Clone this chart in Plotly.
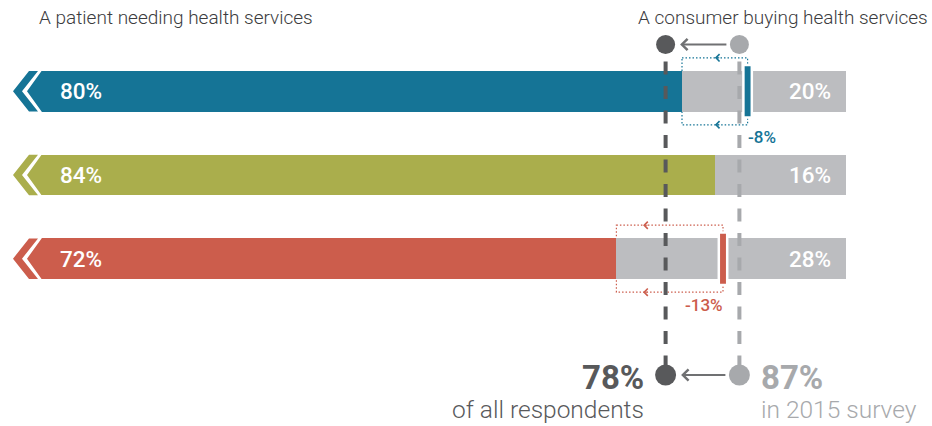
import plotly.graph_objects as go

# ---- data -------------------------------------------------------------
categories = ["Group 1", "Group 2", "Group 3"]
patient_pct = [80, 84, 72]          # share seeing themselves as a patient
consumer_pct = [20, 16, 28]         # share seeing themselves as a consumer
patient_pct_2015 = [88, None, 85]   # earlier survey value (None = no marker)
overall_now = 78
overall_2015 = 87

header_left = "A patient needing health services"
header_right = "A consumer buying health services"
caption_now = "of all respondents"
caption_2015 = "in 2015 survey"

# ---- styles -----------------------------------------------------------
row_colors = ["#157496", "#aaae4c", "#cc5d4c"]
gray = "#bcbdc0"
dark = "#58595b"
light = "#a7a9ac"
arrow_gray = "#707173"
change_side = ["left", None, "right"]     # which side of the marker the change label sits
bracket_arrow_at = [0.5, None, 0.25]      # position of the small arrowhead along the bracket
FONT = "Roboto"

W, H = 932, 426
PX_PER_PCT, ZERO_PX = 8.2, 26
ROW_PX, FIRST_ROW_PX = 83.7, 91.3
BAR_PX = 40.5
h = BAR_PX / 2

x_range = [-ZERO_PX / PX_PER_PCT, (W - ZERO_PX) / PX_PER_PCT]
y_range = [(H - FIRST_ROW_PX) / ROW_PX, -FIRST_ROW_PX / ROW_PX]


def py(px):
    """paper y from a distance in pixels below the top edge"""
    return 1 - px / H


fig = go.Figure()
fig.add_trace(go.Bar(
    y=categories, x=patient_pct, orientation="h",
    marker=dict(color=row_colors, line=dict(width=0)),
    width=BAR_PX / ROW_PX, hoverinfo="skip",
))
fig.add_trace(go.Bar(
    y=categories, x=consumer_pct, orientation="h",
    marker=dict(color=gray, line=dict(width=0)),
    width=BAR_PX / ROW_PX, hoverinfo="skip",
))

shapes = []
annotations = []

for i, (cat, p, c, p15, col) in enumerate(zip(categories, patient_pct, consumer_pct,
                                              patient_pct_2015, row_colors)):
    # chevron-shaped left end: white notch + separate stripe
    shapes.append(dict(
        type="path", xref="x", yref="y", xsizemode="pixel", ysizemode="pixel",
        xanchor=0, yanchor=i,
        path=f"M-3,{-h-2} L17,{-h-2} L1,0 L17,{h+2} L-3,{h+2} Z",
        fillcolor="white", line=dict(width=0), layer="above",
    ))
    shapes.append(dict(
        type="path", xref="x", yref="y", xsizemode="pixel", ysizemode="pixel",
        xanchor=0, yanchor=i,
        path=f"M-13,0 L3,{-h} L12,{-h} L-4,0 L12,{h} L3,{h} Z",
        fillcolor=col, line=dict(width=0), layer="above",
    ))

    # value labels inside the bar
    annotations.append(dict(
        x=0, y=i, xref="x", yref="y", xanchor="left", yanchor="middle", xshift=32,
        text=f"{p}%", showarrow=False,
        font=dict(family=FONT, size=22.5, color="white", weight=500),
    ))
    annotations.append(dict(
        x=p + c, y=i, xref="x", yref="y", xanchor="right", yanchor="middle", xshift=-13,
        text=f"{c}%", showarrow=False,
        font=dict(family=FONT, size=22.5, color="white", weight=500),
    ))

    if p15 is None:
        continue

    # dotted bracket from the earlier value back to the current one
    shapes.append(dict(
        type="rect", xref="x", yref="y", x0=p, x1=p15, y0=i - 0.4, y1=i + 0.4,
        line=dict(color=col, width=1.2, dash="1.5px,2px"), fillcolor="rgba(0,0,0,0)",
        layer="below",
    ))
    head_x = p + bracket_arrow_at[i] * (p15 - p)
    for dy in (-0.4, 0.4):
        annotations.append(dict(
            x=head_x, y=i + dy, xref="x", yref="y", text="", showarrow=True,
            ax=6, ay=0, axref="pixel", ayref="pixel",
            arrowhead=4, arrowsize=1.4, arrowwidth=1, arrowcolor=col,
        ))

    # earlier-survey marker with white outline
    shapes.append(dict(
        type="rect", xref="x", yref="y", xsizemode="pixel", ysizemode="pixel",
        xanchor=p15, yanchor=i, x0=-4.2, x1=4.2, y0=-26.2, y1=26.2,
        fillcolor=col, line=dict(color="white", width=2.5), layer="above",
    ))

    # change label
    side = change_side[i]
    annotations.append(dict(
        x=p15, y=i, xref="x", yref="y",
        xanchor=side, yanchor="middle",
        xshift=-2 if side == "left" else 2, yshift=-46,
        text=f"{p - p15}%", showarrow=False,
        font=dict(family=FONT, size=17, color=col, weight=500),
    ))

# dashed reference lines for the overall shares
for val, colr in ((overall_now, dark), (overall_2015, light)):
    shapes.append(dict(
        type="line", xref="x", yref="paper", x0=val, x1=val, y0=py(61.5), y1=py(372),
        line=dict(color=colr, width=4, dash="13px,11.5px"), layer="above",
    ))

# dots + arrows at top and bottom
for ypx, r in ((44.5, 9.5), (375, 10.5)):
    for val, colr in ((overall_now, dark), (overall_2015, light)):
        shapes.append(dict(
            type="circle", xref="x", yref="paper", xsizemode="pixel", ysizemode="pixel",
            xanchor=val, yanchor=py(ypx), x0=-r, x1=r, y0=-r, y1=r,
            fillcolor=colr, line=dict(width=0), layer="above",
        ))
    annotations.append(dict(
        x=overall_now, y=py(ypx), xref="x", yref="paper", text="", showarrow=True,
        ax=overall_2015, ay=0, axref="x", ayref="pixel",
        standoff=r + 5, startstandoff=r + 2,
        arrowhead=4, arrowsize=1.1, arrowwidth=2, arrowcolor=arrow_gray,
    ))

# headers
annotations.append(dict(
    x=37 / W, y=py(18), xref="paper", yref="paper", xanchor="left", yanchor="middle",
    text=header_left, showarrow=False,
    font=dict(family=FONT, size=19, color="#3c3c3e", weight=300),
))
annotations.append(dict(
    x=930 / W, y=py(18), xref="paper", yref="paper", xanchor="right", yanchor="middle",
    text=header_right, showarrow=False,
    font=dict(family=FONT, size=19, color="#3c3c3e", weight=300),
))

# overall figures at the bottom
annotations += [
    dict(x=overall_now, y=py(377), xref="x", yref="paper", xanchor="right", yanchor="middle",
         xshift=-20, text=f"{overall_now}%", showarrow=False,
         font=dict(family=FONT, size=33, color=dark, weight=700)),
    dict(x=overall_now, y=py(409), xref="x", yref="paper", xanchor="right", yanchor="middle",
         xshift=-20, text=caption_now, showarrow=False,
         font=dict(family=FONT, size=24.5, color=dark, weight=300)),
    dict(x=overall_2015, y=py(377), xref="x", yref="paper", xanchor="left", yanchor="middle",
         xshift=20, text=f"{overall_2015}%", showarrow=False,
         font=dict(family=FONT, size=33, color=light, weight=700)),
    dict(x=overall_2015, y=py(409), xref="x", yref="paper", xanchor="left", yanchor="middle",
         xshift=20, text=caption_2015, showarrow=False,
         font=dict(family=FONT, size=24.5, color=light, weight=300)),
]

fig.update_layout(
    width=W, height=H, autosize=False,
    margin=dict(l=0, r=0, t=0, b=0),
    paper_bgcolor="white", plot_bgcolor="white",
    barmode="stack", bargap=0, showlegend=False, hovermode=False,
    xaxis=dict(range=x_range, visible=False, fixedrange=True),
    yaxis=dict(type="category", categoryarray=categories, range=y_range,
               visible=False, fixedrange=True),
    shapes=shapes, annotations=annotations,
)

fig.write_html("out.html", config={"displayModeBar": False})
